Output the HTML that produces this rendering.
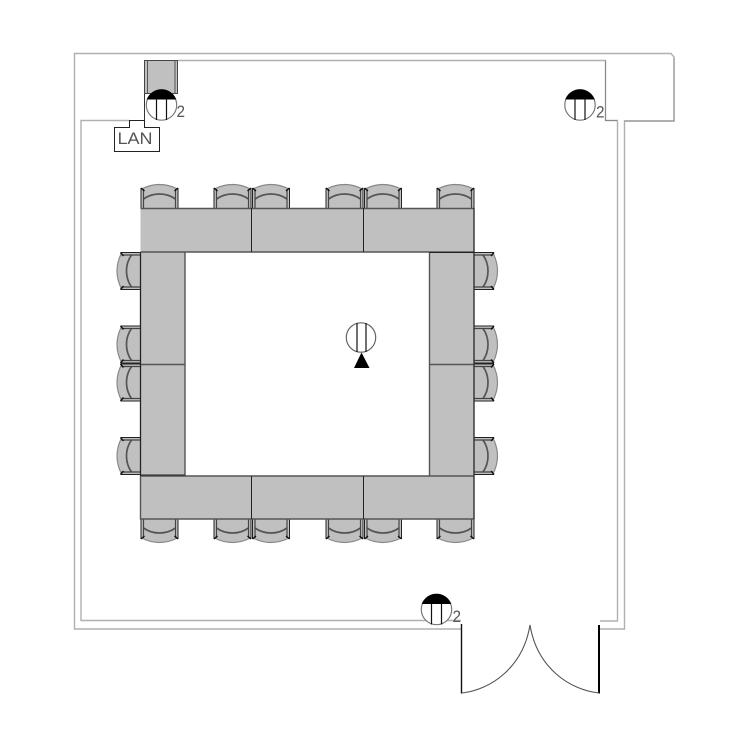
<!DOCTYPE html>
<html>
<head>
<meta charset="utf-8">
<style>
html,body{margin:0;padding:0;background:#fff;width:750px;height:750px;overflow:hidden}
svg{display:block}
text{font-family:"Liberation Sans",sans-serif;fill:#555}
</style>
</head>
<body>
<svg width="750" height="750" viewBox="0 0 750 750" xmlns="http://www.w3.org/2000/svg">
<defs>
<g id="chair">
  <path d="M-18,-19 Q-9,-23.5 0,-23.5 Q9,-23.5 18,-19 L18,0 L-18,0 Z" fill="#c0c0c0" stroke="none"/>
  <path d="M-18,-19 Q-9,-23.5 0,-23.5 Q9,-23.5 18,-19" fill="none" stroke="#888" stroke-width="1.2"/>
  <path d="M-16,-9 Q-9,-14 0,-14 Q9,-14 16,-9" fill="none" stroke="#555" stroke-width="1.7"/>
  <path d="M-18.5,-20 L-18.5,0 M18.5,-20 L18.5,0" fill="none" stroke="#222" stroke-width="1"/>
  <path d="M-16,-19 L-16,0 M16,-19 L16,0" fill="none" stroke="#444" stroke-width="1.2"/>
  <path d="M-18.5,-20 L-15,-17 M18.5,-20 L15,-17" fill="none" stroke="#111" stroke-width="1.4"/>
</g>
<g id="sym">
  <circle cx="0" cy="0" r="15.2" fill="#fff" stroke="#777" stroke-width="1.2"/>
  <path d="M-14,-6 A15.2,15.2 0 0 1 14,-6 Z" fill="#000" stroke="#000" stroke-width="1"/>
  <path d="M-5,-6 V15 M5,-6 V15" stroke="#111" stroke-width="1.2" fill="none"/>
</g>
</defs>

<!-- walls -->
<g fill="none" stroke="#b0b0b0" stroke-width="1.4">
  <path d="M461,629 H74.5 V53.5 H671 L674,57 V121 H624.5 V629 H600"/>
  <path d="M461,620.5 H81 V120.5 H129"/>
  <path d="M178,60.5 H605.5 V120.5 H617.5 V621 H600"/>
</g>
<path d="M605.5,60.5 V120.5 H617 M624.5,121 H674 V58" fill="none" stroke="#8a8a8a" stroke-width="1"/>

<!-- LAN -->
<path d="M144.5,127.5 V92" fill="none" stroke="#333" stroke-width="1"/>
<path d="M129.5,127.5 V120.5 H144.5 V127.5 H159.5 V151.5 H114.5 V127.5 Z" fill="#fff" stroke="#222" stroke-width="1"/>
<text x="117.5" y="144" font-size="17" textLength="35" lengthAdjust="spacingAndGlyphs">LAN</text>

<!-- projector -->
<rect x="144.5" y="60.5" width="33" height="33" fill="#c0c0c0" stroke="#444" stroke-width="1"/>
<path d="M147.5,60 V93 M175,60 V93" stroke="#555" stroke-width="1"/>

<!-- chairs top -->
<use href="#chair" transform="translate(159.5,208)"/>
<use href="#chair" transform="translate(232.5,208)"/>
<use href="#chair" transform="translate(271,208)"/>
<use href="#chair" transform="translate(344.5,208)"/>
<use href="#chair" transform="translate(383,208)"/>
<use href="#chair" transform="translate(455.5,208)"/>
<!-- chairs bottom -->
<use href="#chair" transform="translate(159.5,519) scale(1,-1)"/>
<use href="#chair" transform="translate(232.5,519) scale(1,-1)"/>
<use href="#chair" transform="translate(271,519) scale(1,-1)"/>
<use href="#chair" transform="translate(344.5,519) scale(1,-1)"/>
<use href="#chair" transform="translate(383,519) scale(1,-1)"/>
<use href="#chair" transform="translate(455.5,519) scale(1,-1)"/>
<!-- chairs left -->
<use href="#chair" transform="translate(140.5,271) rotate(-90)"/>
<use href="#chair" transform="translate(140.5,344.5) rotate(-90)"/>
<use href="#chair" transform="translate(140.5,382.5) rotate(-90)"/>
<use href="#chair" transform="translate(140.5,456) rotate(-90)"/>
<!-- chairs right -->
<use href="#chair" transform="translate(474,271) rotate(90)"/>
<use href="#chair" transform="translate(474,344.5) rotate(90)"/>
<use href="#chair" transform="translate(474,382.5) rotate(90)"/>
<use href="#chair" transform="translate(474,456) rotate(90)"/>

<!-- tables -->
<g fill="#c0c0c0" stroke="none">
  <rect x="140.5" y="208" width="333.5" height="44"/>
  <rect x="140.5" y="252" width="44.5" height="224"/>
  <rect x="429.5" y="252" width="44.5" height="224"/>
  <rect x="140.5" y="476" width="333.5" height="43"/>
</g>
<g fill="none" stroke="#555" stroke-width="1.4">
  <path d="M140.5,208.5 H474 M140.5,252 H474 M140.5,252 V519 H474 V208"/>
  <path d="M185,252 V476 M429.5,252 V476"/>
  <path d="M140.5,364.5 H185 M429.5,364.5 H474"/>
  <path d="M140.5,476 H474"/>
</g>
<path d="M251.5,208 V252 M363.5,208 V252 M251.5,476 V519 M363.5,476 V519 M140.5,475 H185 M429.5,252.5 H474 M474,208 V519 M140.5,252 V476" fill="none" stroke="#222" stroke-width="1"/>

<!-- symbols -->
<use href="#sym" transform="translate(161.5,105)"/>
<use href="#sym" transform="translate(580,105)"/>
<use href="#sym" transform="translate(436.5,609.5)"/>
<text x="176.5" y="117" font-size="16.5" textLength="8.5" lengthAdjust="spacingAndGlyphs">2</text>
<text x="596" y="117.5" font-size="16.5" textLength="8.5" lengthAdjust="spacingAndGlyphs">2</text>
<text x="452.5" y="622" font-size="16.5" textLength="8.5" lengthAdjust="spacingAndGlyphs">2</text>

<!-- center symbol -->
<circle cx="361" cy="337.5" r="14.7" fill="#fff" stroke="#666" stroke-width="1.2"/>
<path d="M357,323 V352 M366,323 V352" stroke="#111" stroke-width="1.2"/>
<path d="M361.5,352.5 L369.5,368 L354,368 Z" fill="#000"/>

<!-- door -->
<path d="M461.5,624 V693.5" stroke="#111" stroke-width="1.4"/>
<path d="M599,625 V693.5" stroke="#000" stroke-width="2"/>
<path d="M462,693 C490,690 523,668 530,625 C537,668 570,690 599,693" fill="none" stroke="#555" stroke-width="1.1"/>
</svg>
</body>
</html>
